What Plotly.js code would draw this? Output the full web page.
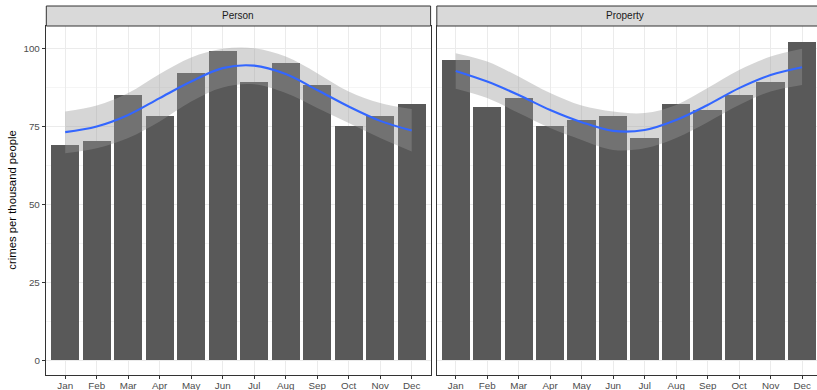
<!DOCTYPE html>
<html>
<head>
<meta charset="utf-8">
<script src="https://cdn.plot.ly/plotly-3.0.1.min.js"></script>
<style>
html, body { margin: 0; padding: 0; overflow: hidden; background: #ffffff; }
#chart { width: 821px; height: 390px; }
</style>
</head>
<body>
<div id="chart"></div>
<script>
// ---- data ----
const months = ["Jan","Feb","Mar","Apr","May","Jun","Jul","Aug","Sep","Oct","Nov","Dec"];
const monthIndex = [1,2,3,4,5,6,7,8,9,10,11,12];

const personRate   = [69.0, 70.3, 85.0, 78.3, 92.1, 99.1, 89.2, 95.3, 88.2, 75.2, 78.3, 82.1];
const propertyRate = [96.2, 81.2, 84.1, 75.1, 77.0, 78.3, 71.3, 82.1, 80.2, 85.0, 89.2, 102.0];

const personFit    = [73.1, 74.9, 78.6, 84.0, 89.3, 93.6, 94.4, 91.7, 86.6, 81.3, 76.7, 73.6];
const personUpper  = [79.7, 81.6, 85.6, 91.7, 97.0, 99.8, 100.0, 97.3, 92.0, 86.1, 82.4, 80.5];
const personLower  = [66.3, 67.9, 71.2, 76.5, 82.9, 87.4, 88.4, 85.6, 80.8, 76.0, 71.2, 66.9];

const propertyFit   = [92.7, 89.3, 85.0, 80.2, 76.3, 73.5, 73.8, 77.0, 81.8, 87.2, 91.4, 93.9];
const propertyUpper = [98.4, 95.7, 90.9, 85.6, 81.6, 79.7, 79.2, 81.8, 87.2, 93.0, 97.3, 99.8];
const propertyLower = [87.0, 84.0, 79.2, 74.4, 70.6, 67.4, 67.9, 71.2, 76.3, 81.8, 86.1, 88.2];

const panels = ["Person", "Property"];
const yTicks = [0, 25, 50, 75, 100];
const yTitle = "crimes per thousand people";

// ---- styling ----
const W = 821, H = 390;
const FONT = "Liberation Sans, Arial, Helvetica, sans-serif";
const barColor = "#595959";
const bandColor = "rgba(153,153,153,0.4)";
const lineColor = "#3366FF";
const gridColor = "#ebebeb";
const borderColor = "#333333";

const px = v => v / W;
const py = v => 1 - v / H;

const xDomains = [[px(46.3), px(430.6)], [px(436.8), px(821)]];
const yDomain = [py(375.3), py(26)];

function panelTraces(vals, fit, lo, hi, xa, ya) {
  return [
    { type: "bar", x: monthIndex, y: vals, width: 0.9, marker: { color: barColor, line: { width: 0 } },
      xaxis: xa, yaxis: ya, hoverinfo: "skip", showlegend: false },
    { type: "scatter", mode: "lines", x: monthIndex, y: lo, line: { width: 0, shape: "spline" },
      xaxis: xa, yaxis: ya, hoverinfo: "skip", showlegend: false },
    { type: "scatter", mode: "lines", x: monthIndex, y: hi, line: { width: 0, shape: "spline" },
      fill: "tonexty", fillcolor: bandColor,
      xaxis: xa, yaxis: ya, hoverinfo: "skip", showlegend: false },
    { type: "scatter", mode: "lines", x: monthIndex, y: fit, line: { width: 2.1, color: lineColor, shape: "spline" },
      xaxis: xa, yaxis: ya, hoverinfo: "skip", showlegend: false }
  ];
}

const data = [].concat(
  panelTraces(personRate, personFit, personLower, personUpper, "x", "y"),
  panelTraces(propertyRate, propertyFit, propertyLower, propertyUpper, "x2", "y2")
);

function xAxis(domain, anchor) {
  return {
    domain: domain, anchor: anchor, range: [0.4, 12.6],
    tickmode: "array", tickvals: monthIndex, ticktext: months,
    showgrid: true, gridcolor: gridColor, gridwidth: 1,
    zeroline: false, showline: true, linecolor: borderColor, linewidth: 1, mirror: true,
    ticks: "outside", ticklen: 3, tickwidth: 1, tickcolor: borderColor,
    ticklabelstandoff: -2,
    tickfont: { family: FONT, size: 9.8, color: "#4d4d4d" }, fixedrange: true
  };
}
function yAxis(anchor, labels) {
  return {
    domain: yDomain, anchor: anchor, range: [-4.8, 107.1],
    tickmode: "array", tickvals: yTicks, ticktext: yTicks.map(String),
    showticklabels: labels,
    showgrid: true, gridcolor: gridColor, gridwidth: 1,
    minor: { tickmode: "array", tickvals: [12.5, 37.5, 62.5, 87.5], showgrid: true, gridcolor: gridColor, gridwidth: 0.5, ticks: "" },
    zeroline: false, showline: true, linecolor: borderColor, linewidth: 1, mirror: true,
    ticks: labels ? "outside" : "", ticklen: 3.5, tickwidth: 1, tickcolor: borderColor,
    tickfont: { family: FONT, size: 9.8, color: "#4d4d4d" }, fixedrange: true
  };
}

const shapes = [];
const annotations = [];
panels.forEach((name, i) => {
  shapes.push({ type: "rect", xref: "paper", yref: "paper",
    x0: xDomains[i][0], x1: xDomains[i][1], y0: py(26), y1: py(6),
    fillcolor: "#d9d9d9", line: { color: borderColor, width: 1 }, layer: "above" });
  annotations.push({ xref: "paper", yref: "paper",
    x: (xDomains[i][0] + Math.min(xDomains[i][1], px(817))) / 2 - (i === 1 ? px(2) : 0), y: py(16),
    text: name, showarrow: false, xanchor: "center", yanchor: "middle",
    font: { family: FONT, size: 10, color: "#1a1a1a" } });
});
annotations.push({ xref: "paper", yref: "paper", x: px(12), y: (yDomain[0] + yDomain[1]) / 2,
  text: yTitle, showarrow: false, textangle: -90, xanchor: "center", yanchor: "middle",
  font: { family: FONT, size: 11.3, color: "#000000" } });

const layout = {
  width: W, height: H,
  margin: { l: 0, r: 0, t: 0, b: 0, pad: 0 },
  paper_bgcolor: "#ffffff", plot_bgcolor: "#ffffff",
  showlegend: false, bargap: 0,
  xaxis: xAxis(xDomains[0], "y"),
  xaxis2: xAxis(xDomains[1], "y2"),
  yaxis: yAxis("x", true),
  yaxis2: yAxis("x2", false),
  shapes: shapes, annotations: annotations
};

Plotly.newPlot("chart", data, layout, { staticPlot: true, displayModeBar: false });
</script>
</body>
</html>
